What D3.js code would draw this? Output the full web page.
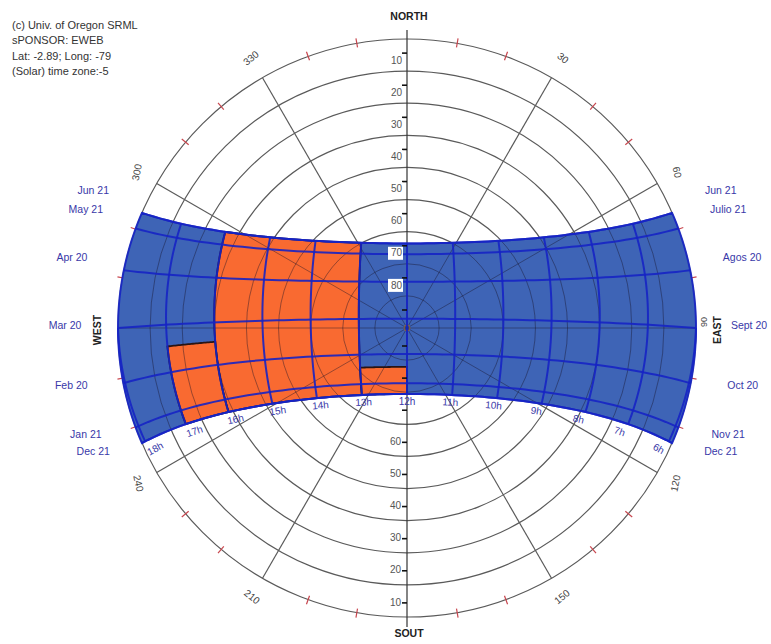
<!DOCTYPE html>
<html>
<head>
<meta charset="utf-8">
<script src="https://cdn.jsdelivr.net/npm/d3@7"></script>
<style>
  body { margin: 0; background: #fff; }
  svg { display: block; }
  text { font-family: "Liberation Sans", Arial, sans-serif; }
</style>
</head>
<body>
<svg id="chart" width="771" height="644"></svg>
<script>
// ---- site & chart data ----
const siteLatitude = -2.89;
const creditLines = ["(c) Univ. of Oregon SRML", "sPONSOR: EWEB", "Lat: -2.89; Long: -79", "(Solar) time zone:-5"];

// declination of each date line (deg), with the month names shown at each end
const declinations   = [23.44, 20.1, 11.5, 0, -11.0, -20.1, -23.44];
const westDateLabels = ["Jun 21", "May 21", "Apr 20", "Mar 20", "Feb 20", "Jan 21", "Dec 21"];
const eastDateLabels = ["Jun 21", "Julio 21", "Agos 20", "Sept 20", "Oct 20", "Nov 21", "Dec 21"];

// solar hours of the hour lines
const hours = [6, 7, 8, 9, 10, 11, 12, 13, 14, 15, 16, 17, 18];

// altitude circles and their labels
const altitudeRings   = [10, 20, 30, 40, 50, 60, 70, 80];
const northAltLabels  = [10, 20, 30, 40, 50, 60, 70, 80];
const southAltLabels  = [10, 20, 30, 40, 50, 60];
const altTicks        = [10, 20, 30, 40, 50, 60, 70, 80, 90];

// azimuth lines / labels
const azimuthLines  = [0, 30, 60, 90, 120, 150, 180, 210, 240, 270, 300, 330];
const azimuthLabels = [30, 60, 120, 150, 210, 240, 300, 330];
const minorAzimuths = [10, 20, 40, 50, 70, 80, 100, 110, 130, 140, 160, 170,
                       190, 200, 220, 230, 250, 260, 280, 290, 310, 320, 340, 350];

// overheated periods: solar-hour span x declination span
const hotStartHour = [13, 16, 12];
const hotEndHour   = [16, 17, 13];
const hotDecMin    = [-23.44, -23.44, -23.44];
const hotDecMax    = [23.44, -5.0, -15.0];

// ---- layout ----
const svg = d3.select("#chart");
const cx = 407, cy = 328, R = 289;
const rad = Math.PI / 180;
const rScale = d3.scaleLinear().domain([90, 0]).range([0, R]);

const phi = siteLatitude * rad;

function sunPos(dec, H) {
  const d = dec * rad, h = H * rad;
  const s = Math.sin(phi) * Math.sin(d) + Math.cos(phi) * Math.cos(d) * Math.cos(h);
  const alt = Math.asin(Math.max(-1, Math.min(1, s)));
  let c = (Math.sin(d) - s * Math.sin(phi)) / (Math.cos(alt) * Math.cos(phi));
  c = Math.max(-1, Math.min(1, c));
  let az = Math.acos(c) / rad;
  if (H > 0) az = 360 - az;
  return { alt: alt / rad, az };
}
function project(alt, az) {
  const rr = rScale(Math.max(0, alt));
  return [cx + rr * Math.sin(az * rad), cy - rr * Math.cos(az * rad)];
}
function sunXY(dec, H) { const p = sunPos(dec, H); return project(p.alt, p.az); }
function halfDay(dec) {
  const v = -Math.tan(phi) * Math.tan(dec * rad);
  return Math.acos(Math.max(-1, Math.min(1, v))) / rad;
}
function horizonAz(dec, west) {
  const c = Math.sin(dec * rad) / Math.cos(phi);
  const a = Math.acos(Math.max(-1, Math.min(1, c))) / rad;
  return west ? 360 - a : a;
}
function alongDec(dec, Ha, Hb, n = 80) {
  return d3.range(n + 1).map(i => sunXY(dec, Ha + (Hb - Ha) * i / n));
}
function alongHour(H, da, db, n = 60) {
  return d3.range(n + 1).map(i => sunXY(da + (db - da) * i / n, H));
}
const lineGen = d3.line();
const decMax = d3.max(declinations), decMin = d3.min(declinations);

// band outline: June path, west horizon, December path, east horizon
function bandPoints() {
  const pts = [];
  const h0 = halfDay(decMax), h1 = halfDay(decMin);
  pts.push(...alongDec(decMax, -h0, h0));
  d3.range(0, 41).forEach(i => {
    const d = decMax + (decMin - decMax) * i / 40;
    pts.push(project(0, horizonAz(d, true)));
  });
  pts.push(...alongDec(decMin, h1, -h1));
  d3.range(0, 41).forEach(i => {
    const d = decMin + (decMax - decMin) * i / 40;
    pts.push(project(0, horizonAz(d, false)));
  });
  return pts;
}
const bandPath = lineGen(bandPoints()) + "Z";

// ---- base grid ----
const grid = svg.append("g").attr("fill", "none").attr("stroke", "#5a5a5a").attr("stroke-width", 1.2);
[0, ...altitudeRings].forEach(a => grid.append("circle").attr("cx", cx).attr("cy", cy).attr("r", rScale(a)));
azimuthLines.filter(a => a % 180 !== 0).forEach(a => {
  const p = project(0, a);
  grid.append("line").attr("x1", cx).attr("y1", cy).attr("x2", p[0]).attr("y2", p[1]);
});
minorAzimuths.forEach(a => {
  const s = Math.sin(a * rad), c = Math.cos(a * rad);
  svg.append("line")
    .attr("x1", cx + (R - 4) * s).attr("y1", cy - (R - 4) * c)
    .attr("x2", cx + (R + 5) * s).attr("y2", cy - (R + 5) * c)
    .attr("stroke", "#c8464e").attr("stroke-width", 1.2);
});
// north-south axis
svg.append("line").attr("x1", cx).attr("x2", cx).attr("y1", cy - R - 9).attr("y2", cy + R + 10)
  .attr("stroke", "#333").attr("stroke-width", 1.2);

// ---- sun path band ----
svg.append("path").attr("d", bandPath).attr("fill", "#3e64b6");

// overheated cells
const hotGroup = svg.append("g");
hotStartHour.forEach((hs, i) => {
  const H1 = (hs - 12) * 15, H2 = (hotEndHour[i] - 12) * 15;
  const d1 = hotDecMin[i], d2 = hotDecMax[i];
  const pts = [
    ...alongDec(d2, H1, H2, 30),
    ...alongHour(H2, d2, d1, 30),
    ...alongDec(d1, H2, H1, 30),
    ...alongHour(H1, d1, d2, 30)
  ];
  hotGroup.append("path").attr("d", lineGen(pts) + "Z")
    .attr("fill", "#f96a31").attr("stroke", "#2a1414").attr("stroke-width", 1.8);
});

// grid seen through the band
svg.append("clipPath").attr("id", "bandClip").append("path").attr("d", bandPath);
const gridOver = svg.append("g").attr("clip-path", "url(#bandClip)")
  .attr("fill", "none").attr("stroke", "rgba(25,20,40,0.42)").attr("stroke-width", 1);
altitudeRings.forEach(a => gridOver.append("circle").attr("cx", cx).attr("cy", cy).attr("r", rScale(a)));
azimuthLines.forEach(a => {
  const p = project(0, a);
  gridOver.append("line").attr("x1", cx).attr("y1", cy).attr("x2", p[0]).attr("y2", p[1]);
});
gridOver.append("circle").attr("cx", cx).attr("cy", cy).attr("r", 3).attr("stroke", "#8a5a3a");

// date lines and hour lines
const pathLines = svg.append("g").attr("fill", "none").attr("stroke", "#1624c4").attr("stroke-width", 2).attr("stroke-opacity", 0.9);
declinations.forEach(d => {
  const h0 = halfDay(d);
  pathLines.append("path").attr("d", lineGen(alongDec(d, -h0, h0)));
});
hours.forEach(h => {
  const H = (h - 12) * 15;
  const decs = d3.range(decMin, decMax + 0.001, (decMax - decMin) / 120).filter(d => halfDay(d) >= Math.abs(H) - 1e-9);
  if (decs.length < 2) return;
  pathLines.append("path").attr("d", lineGen(decs.map(d => sunXY(d, H))));
});
pathLines.append("path").attr("d", bandPath);

// ---- altitude ticks & labels on the north-south axis ----
const altG = svg.append("g");
altTicks.forEach(a => {
  const rr = rScale(a) + 18;
  [cy - rr, cy + rr].forEach(y => {
    altG.append("line").attr("x1", cx - 5).attr("x2", cx).attr("y1", y).attr("y2", y)
      .attr("stroke", "#111").attr("stroke-width", 1.6);
  });
});
northAltLabels.forEach(a => {
  const y = cy - (rScale(a) + 18) + 8;
  altG.append("rect").attr("x", cx - 19).attr("y", y - 7).attr("width", 15).attr("height", 13).attr("fill", "#fff");
  altG.append("text").attr("x", cx - 5).attr("y", y).attr("text-anchor", "end")
    .attr("dominant-baseline", "middle").attr("font-size", 10).attr("fill", "#555").text(a);
});
southAltLabels.forEach(a => {
  const y = cy + rScale(a) + 18;
  altG.append("text").attr("x", cx - 6).attr("y", y).attr("text-anchor", "end")
    .attr("dominant-baseline", "middle").attr("font-size", 10).attr("fill", "#555").text(a);
});

// ---- azimuth labels ----
azimuthLabels.forEach(a => {
  const rr = R + 22;
  const x = cx + rr * Math.sin(a * rad), y = cy - rr * Math.cos(a * rad);
  let rot = a > 180 ? a - 360 : a;
  if (rot > 90) rot -= 180;
  if (rot < -90) rot += 180;
  rot = rot * 1.3;
  svg.append("text").attr("transform", `translate(${x},${y}) rotate(${rot})`)
    .attr("text-anchor", "middle").attr("dominant-baseline", "middle")
    .attr("font-size", 10).attr("fill", "#444").text(a);
});
svg.append("text").attr("transform", `translate(${cx + R + 9},${cy - 6}) rotate(-90)`)
  .attr("text-anchor", "middle").attr("dominant-baseline", "middle")
  .attr("font-size", 9).attr("fill", "#444").text("90");

// ---- hour labels under the December path ----
hours.forEach(h => {
  const H = (h - 12) * 15;
  const p = sunXY(decMin, H);
  const a = sunXY(decMin, H - 2), b = sunXY(decMin, H + 2);
  let ang = Math.atan2(b[1] - a[1], b[0] - a[0]) / rad;
  if (ang > 90) ang -= 180;
  if (ang < -90) ang += 180;
  const x = cx + (p[0] - cx) * 0.96, y = p[1] + 8;
  svg.append("text").attr("transform", `translate(${x},${y}) rotate(${ang})`)
    .attr("text-anchor", "middle").attr("dominant-baseline", "middle")
    .attr("font-size", 10).attr("fill", "#3838a8").text(h + "h");
});

// ---- month labels at both ends of the date lines ----
declinations.forEach((d, i) => {
  const rr = d >= 0 ? 338 : 318;
  const y = cy - 2 - rr * Math.sin(d * rad);
  const dx = 342 * Math.cos(d * rad);
  svg.append("text").attr("x", cx - dx).attr("y", y).attr("text-anchor", "middle")
    .attr("dominant-baseline", "middle").attr("font-size", 10.5).attr("fill", "#3838a8").text(westDateLabels[i]);
  svg.append("text").attr("x", cx + dx).attr("y", y).attr("text-anchor", "middle")
    .attr("dominant-baseline", "middle").attr("font-size", 10.5).attr("fill", "#3838a8").text(eastDateLabels[i]);
});

// ---- compass words ----
const bold = { "font-size": 10.5, "font-weight": "bold", "fill": "#222" };
function compass(txt, x, y, rot) {
  const t = svg.append("text").attr("transform", `translate(${x},${y}) rotate(${rot})`)
    .attr("text-anchor", "middle").attr("dominant-baseline", "middle").text(txt);
  Object.entries(bold).forEach(([k, v]) => t.attr(k, v));
}
compass("NORTH", cx + 2, 17, 0);
compass("SOUT", cx + 2, 634, 0);
compass("WEST", 98, cy + 2, -90);
compass("EAST", 718, cy + 2, -90);

// ---- credits ----
creditLines.forEach((s, i) => {
  svg.append("text").attr("x", 12).attr("y", 29 + i * 15.3).attr("font-size", 11).attr("fill", "#333").text(s);
});
</script>
</body>
</html>
